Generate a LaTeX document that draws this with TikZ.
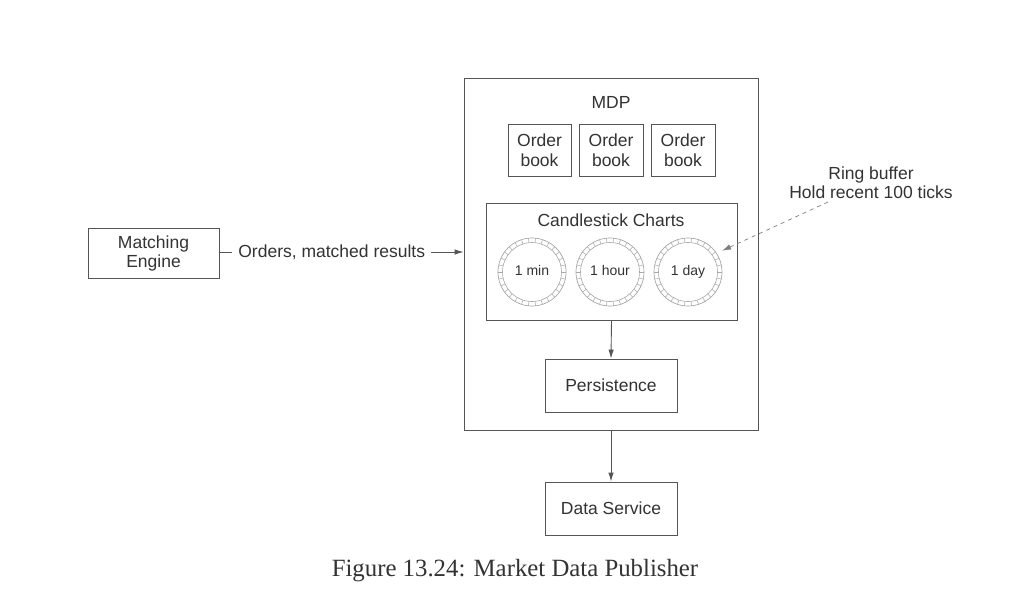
\documentclass[tikz,border=0pt]{standalone}
\usepackage{fontspec}
\setmainfont{Liberation Serif}
\newfontfamily\diagfont{Liberation Sans}
\usetikzlibrary{arrows.meta,calc}
\definecolor{ln}{HTML}{555555}
\definecolor{tx}{HTML}{333333}
\definecolor{rg}{HTML}{A8A8A8}
\tikzset{
  box/.style={draw=ln, line width=0.9pt, inner sep=0pt, font=\diagfont\fontsize{17.5}{21}\selectfont, text=tx, align=center},
  lbl/.style={inner sep=1pt, font=\diagfont\fontsize{17.5}{21}\selectfont, text=tx, align=center},
  small/.style={inner sep=0pt, font=\diagfont\fontsize{14}{17}\selectfont, text=tx, text height=10pt, text depth=3pt},
  arr/.style={draw=ln, line width=0.9pt, -{Latex[length=9pt,width=5.5pt]}},
  darr/.style={draw=ln!75, line width=0.7pt, dash pattern=on 4pt off 4pt, -{Latex[length=9pt,width=5.5pt]}},
}
\begin{document}
\begin{tikzpicture}[x=1pt,y=-1pt]
\useasboundingbox (0,0) rectangle (1017,611);
\fill[white] (0,0) rectangle (1017,611);
% MDP outer box
\node[box, minimum width=294pt, minimum height=352pt] (mdp) at (611,254) {};
\node[lbl] (mdplbl) at (611,102) {MDP};
% order books
\node[box, minimum width=63pt, minimum height=52pt] (ob1) at (539.5,150) {Order\\[-1pt]book};
\node[box, minimum width=64pt, minimum height=52pt] (ob2) at (611,150) {Order\\[-1pt]book};
\node[box, minimum width=64pt, minimum height=52pt] (ob3) at (683,150) {Order\\[-1pt]book};
% candlestick
\node[box, minimum width=251pt, minimum height=117pt] (cs) at (611.5,261.5) {};
\node[lbl] (cslbl) at (611,220) {Candlestick Charts};
% rings
\foreach \nm/\cx/\t in {r1/532/1 min, r2/610/1 hour, r3/688/1 day}{
  \node[circle, minimum size=80pt, inner sep=0pt] (\nm) at (\cx,272) {};
  \draw[rg, line width=0.7pt] (\cx,272) circle (34pt);
  \draw[rg, line width=0.6pt] (\cx,272) circle (29.5pt);
  \foreach \a in {0,12,...,348}{
    \draw[rg, line width=0.5pt] ($(\cx,272)+(\a:29.5pt)$) -- ($(\cx,272)+(\a:34pt)$);
  }
  \node[small] at (\cx,272) {\t};
}
% persistence / data service
\node[box, minimum width=132pt, minimum height=53pt] (pers) at (611,385.5) {Persistence};
\node[box, minimum width=132pt, minimum height=53pt] (ds) at (611,508.5) {Data Service};
% matching engine
\node[box, minimum width=131pt, minimum height=50pt] (me) at (153.5,253) {Matching\\[-2pt]Engine};
% ring buffer label
\node[lbl] (rb) at (871,183) {Ring buffer\\[-2pt]Hold recent 100 ticks};
\coordinate (rbs) at (828,202);
% connectors
\draw[arr] (me.east |- 0,252) -- node[pos=0.46, fill=white, lbl, inner sep=6pt] {Orders, matched results} (mdp.west |- 0,252);
\draw[arr] (cs.south) -- (pers.north);
\draw[arr] (mdp.south) -- (ds.north);
\draw[darr] (rbs) -- (r3.32);
% caption
\node[inner sep=0pt, font=\fontsize{24.8}{28}\selectfont, text=tx] (cap) at (515,571) {Figure 13.24: Market Data Publisher};
\end{tikzpicture}
\end{document}
